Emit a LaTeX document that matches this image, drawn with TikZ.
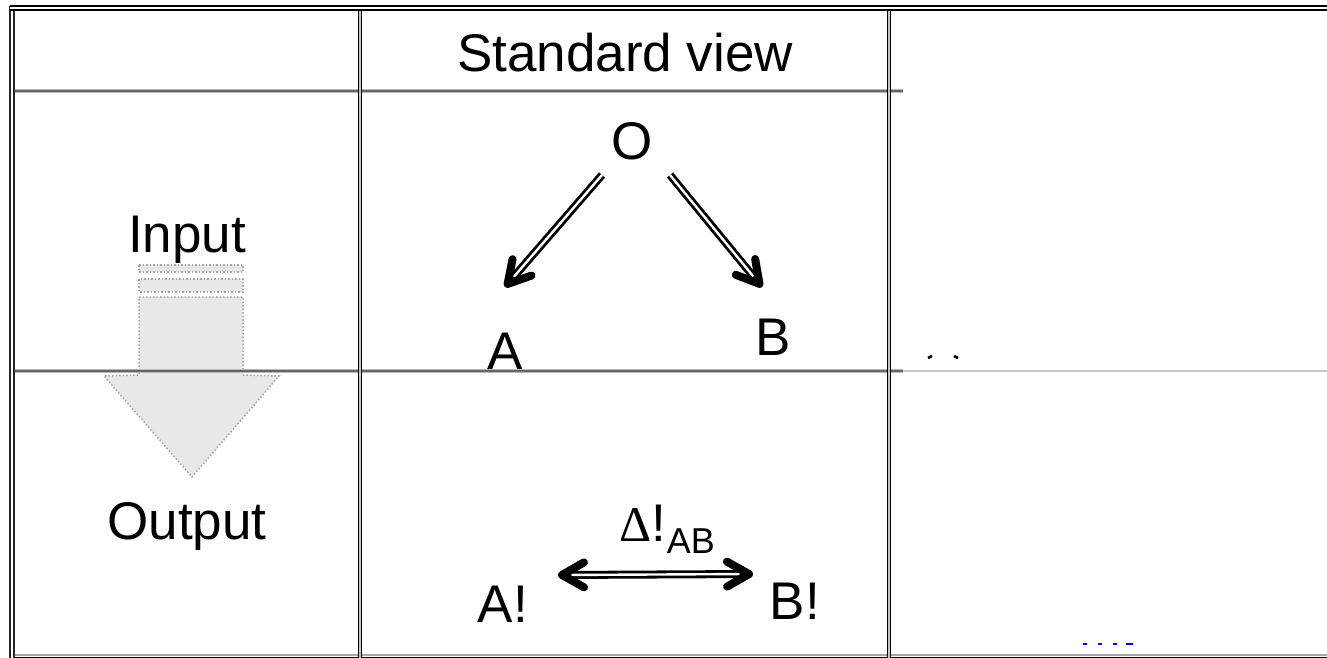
\documentclass[tikz,border=0pt]{standalone}
\usepackage{fontspec}
\setmainfont{Liberation Sans}
\newfontfamily\serifgreek{Liberation Serif}
\usetikzlibrary{arrows.meta,calc}
\begin{document}
\begin{tikzpicture}[x=1pt,y=-1pt,
  txt/.style={anchor=base,inner sep=0pt,font=\fontsize{53}{60}\selectfont},
  sub/.style={anchor=base west,inner sep=0pt,font=\fontsize{36}{40}\selectfont},
  dbl/.style={draw=black,double=white,line width=2.8pt,double distance=2.4pt},
  tipline/.style={line width=7pt,line cap=round,line join=round,-{Straight Barb[length=22pt,width=25pt,line width=8pt,round]}},
  rowsep/.style={draw=gray!55,line width=3.6pt},
  rowcore/.style={draw=black!60,line width=1.2pt},
  colsep/.style={draw=black,double=gray!45,line width=1.5pt,double distance=1.8pt},
  bigarrow/.style={fill=gray!18,draw=gray!70,dotted,line width=1.5pt}
]
\useasboundingbox (0,0) rectangle (1327,658);
% grey block arrow
\draw[bigarrow] (139,265) rectangle (243,272);
\draw[bigarrow] (139,279) rectangle (243,292);
\draw[bigarrow] (139,297) -- (243,297) -- (243,375) -- (279,376) -- (192,477) -- (104,376) -- (139,375) -- cycle;
% table lines
\draw[rowsep] (12,91) -- (903,91);
\draw[rowcore] (12,91) -- (903,91);
\draw[rowsep] (12,371) -- (903,371);
\draw[rowcore] (12,371) -- (903,371);
\draw[draw=gray!45,line width=1.5pt] (903,371) -- (1327,371);
\draw[draw=gray!70,line width=1.8pt] (12,654.8) -- (1327,654.8);
\draw[draw=black,line width=2pt] (12,657.6) -- (1327,657.6);
\draw[colsep] (360,8) -- (360,658);
\draw[colsep] (889,8) -- (889,658);
\draw[draw=black!85,double=white,line width=1.6pt,double distance=2.6pt] (12,6) -- (12,658);
\draw[draw=black,double=white,line width=2.2pt,double distance=2pt] (10,8) -- (1327,8);
% texts
\node[txt] (hdr) at (625,72) {Standard view};
\node[txt] (inp) at (187,252) {Input};
\node[txt] (out) at (187,539) {Output};
\node[txt] (O) at (632,159) {O};
\node[txt] (A) at (505,369) {A};
\node[txt] (B) at (773,355) {B};
\node[txt] (A2) at (503,622) {A!};
\node[txt] (B2) at (795,619) {B!};
\node[txt,anchor=base west,font=\fontsize{50}{56}\serifgreek] (dl) at (619,541) {Δ};
\node[txt,anchor=base west] (ex) at (dl.base east) {!};
\node[sub] (ab) at ($(ex.base east)+(0,12)$) {AB};
% arrow end points
\coordinate (o1) at (602,175);
\coordinate (a1) at (505,287);
\coordinate (o2) at (670,175);
\coordinate (b1) at (762,287);
\coordinate (l1) at (558,575);
\coordinate (r1) at (753,574);
% double arrows
\draw[dbl] (o1) -- ($(a1)!9pt!(o1)$);
\draw[tipline] ($(a1)!10pt!(o1)$) -- (a1);
\draw[dbl] (o2) -- ($(b1)!9pt!(o2)$);
\draw[tipline] ($(b1)!10pt!(o2)$) -- (b1);
\draw[dbl] ($(l1)!9pt!(r1)$) -- ($(r1)!9pt!(l1)$);
\draw[tipline] ($(l1)!10pt!(r1)$) -- (l1);
\draw[tipline] ($(r1)!10pt!(l1)$) -- (r1);
% stray marks
\draw[line width=2.5pt] (928,358) -- (932,356);
\draw[line width=2.5pt] (954,356) -- (958,358);
\draw[blue,line width=2.5pt] (1083,644) -- (1087,644) (1098,644) -- (1102,644) (1113,644) -- (1117,644) (1126,644) -- (1133,644);
\end{tikzpicture}
\end{document}
